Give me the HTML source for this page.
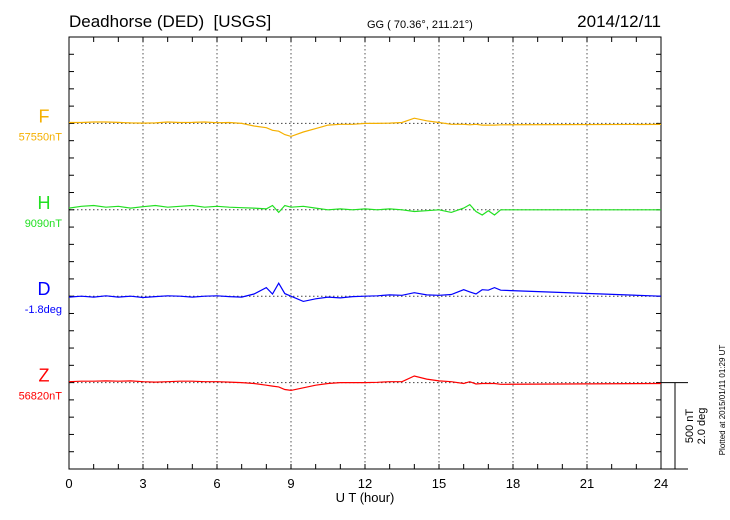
<!DOCTYPE html>
<html><head><meta charset="utf-8"><style>
body{margin:0;background:#fff;}
svg{display:block;font-family:"Liberation Sans",sans-serif;}
</style></head><body>
<svg id="c" width="730" height="520">
<text x="69" y="27" font-size="17">Deadhorse (DED)&#160; [USGS]</text>
<text x="367" y="28" font-size="11">GG ( 70.36°, 211.21°)</text>
<text x="661" y="27" font-size="17" text-anchor="end">2014/12/11</text>
<text x="365" y="502" font-size="13" text-anchor="middle">U T (hour)</text>
<text transform="translate(693,426) rotate(-90)" font-size="11" text-anchor="middle">500 nT</text>
<text transform="translate(705,426) rotate(-90)" font-size="11" text-anchor="middle">2.0 deg</text>
<text transform="translate(725,400) rotate(-90)" font-size="8" text-anchor="middle">Plotted at 2015/01/11 01:29 UT</text>
<g id="g"></g>
</svg>
<script>
const hours=[0,0.5,1,1.5,2,2.5,3,3.5,4,4.5,5,5.5,6,6.5,7,7.5,8,8.25,8.5,8.75,9,9.5,10,10.5,11,11.5,12,12.5,13,13.5,14,14.5,15,15.5,16,16.25,16.5,16.75,17,17.25,17.5,24];
const fVals=[5,5,8,8,6,3,2,3,8,5,6,8,4,5,0,-15,-25,-40,-45,-65,-75,-50,-30,-10,-5,-5,0,0,2,5,30,15,5,-5,-5,-8,-5,-10,-10,-10,-8,-6];
const hVals=[10,20,25,15,20,10,18,25,15,20,25,15,20,15,12,10,5,25,-15,25,15,20,10,0,5,0,5,0,5,0,-10,-5,0,-15,10,30,-10,-30,-5,-30,0,0];
const dVals=[-0.02,0,-0.02,0.01,-0.02,0,-0.03,-0.01,0.01,0,-0.02,0,0.01,-0.01,-0.02,0.05,0.2,0.05,0.3,0.06,0,-0.12,-0.06,-0.02,-0.04,-0.01,0,0.01,0.03,0.02,0.08,0.03,0.02,0.04,0.15,0.1,0.05,0.15,0.14,0.2,0.14,0];
const zVals=[5,8,8,10,8,10,5,3,5,8,8,5,5,3,0,-5,-15,-20,-25,-40,-45,-30,-15,-5,0,0,0,2,5,5,38,20,10,5,-5,5,-8,-5,-5,-5,-10,-5];
const xTicks=[0,3,6,9,12,15,18,21,24];
const L=69,R=661,T=37,B=469,step=(B-T)/25;
const x=h=>L+(R-L)*h/24;
const NS="http://www.w3.org/2000/svg";
const g=document.getElementById('g');
function mk(t,a){const e=document.createElementNS(NS,t);for(const k in a)e.setAttribute(k,a[k]);g.appendChild(e);return e;}
const pxPerNT=step/100, pxPerDeg=step*5/2;
const series=[
{name:'F',vals:fVals,base:T+5*step,col:'#f5b000',sc:pxPerNT,sub:'57550nT'},
{name:'H',vals:hVals,base:T+10*step,col:'#22e022',sc:pxPerNT,sub:'9090nT'},
{name:'D',vals:dVals,base:T+15*step,col:'#0000ff',sc:pxPerDeg,sub:'-1.8deg'},
{name:'Z',vals:zVals,base:T+20*step,col:'#ff0000',sc:pxPerNT,sub:'56820nT'}];
xTicks.slice(1,-1).forEach(h=>{const e=mk('line',{x1:x(h),x2:x(h),y1:T,y2:B,stroke:'#555','stroke-dasharray':'1.5,2.5'});});
series.forEach(s=>{const e=mk('line',{x1:L,x2:R,y1:s.base,y2:s.base,stroke:'#444','stroke-dasharray':'1.5,2.5'});});
const fr=mk('rect',{x:L,y:T,width:R-L,height:B-T,fill:'none',stroke:'#000'});


for(let h=1;h<24;h++){mk('line',{x1:x(h),x2:x(h),y1:T,y2:T+5,stroke:'#000'});mk('line',{x1:x(h),x2:x(h),y1:B,y2:B-5,stroke:'#000'});}
for(let i=1;i<25;i++){mk('line',{x1:L,x2:L+5,y1:T+i*step,y2:T+i*step,stroke:'#000'});mk('line',{x1:R,x2:R-5,y1:T+i*step,y2:T+i*step,stroke:'#000'});}
xTicks.forEach(h=>{const t=mk('text',{x:x(h),y:488,'font-size':13,'text-anchor':'middle'});t.textContent=h;});
series.forEach(s=>{
 const d=hours.map((h,i)=>(i?'L':'M')+x(h).toFixed(1)+','+(s.base-s.vals[i]*s.sc).toFixed(1)).join('');
 const p=mk('path',{d:d,fill:'none',stroke:s.col,'stroke-width':1.2});
 
 
 const t=mk('text',{x:44,y:s.base-1,'font-size':18,fill:s.col,'text-anchor':'middle'});t.textContent=s.name;
 
 
 const u=mk('text',{x:62,y:s.base+17,'font-size':11,fill:s.col,'text-anchor':'end'});u.textContent=s.sub;
 
 
});
const zb=T+20*step;
mk('line',{x1:R,x2:688,y1:zb,y2:zb,stroke:'#000'});
mk('line',{x1:R,x2:688,y1:B,y2:B,stroke:'#000'});
const sb=mk('line',{x1:675,x2:675,y1:zb,y2:B,stroke:'#000'});


</script>
</body></html>
